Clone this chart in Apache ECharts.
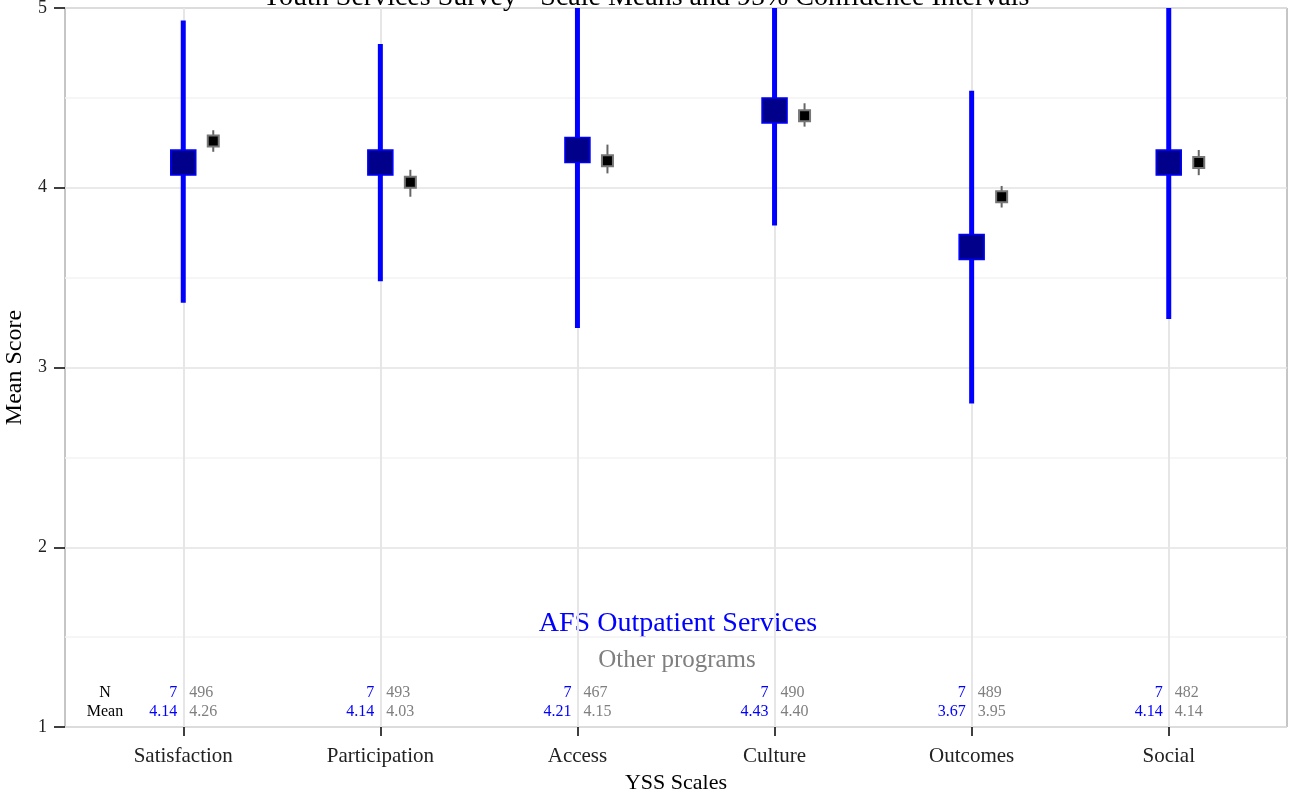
<!DOCTYPE html>
<html>
<head>
<meta charset="utf-8">
<script src="https://cdn.jsdelivr.net/npm/echarts@6/dist/echarts.min.js"></script>
<style>
html,body{margin:0;padding:0;background:#fff;}
#chart{width:1291px;height:802px;}
</style>
</head>
<body>
<div id="chart"></div>
<script>
const categories = ['Satisfaction','Participation','Access','Culture','Outcomes','Social'];
const afsMean = [4.14, 4.14, 4.21, 4.43, 3.67, 4.14];
const afsLow = [3.36, 3.48, 3.22, 3.79, 2.80, 3.27];
const afsHigh = [4.93, 4.80, 5.20, 5.07, 4.54, 5.01];
const afsN = [7, 7, 7, 7, 7, 7];
const otherMean = [4.26, 4.03, 4.15, 4.40, 3.95, 4.14];
const otherLow = [4.20, 3.95, 4.08, 4.34, 3.89, 4.07];
const otherHigh = [4.32, 4.10, 4.24, 4.47, 4.01, 4.21];
const otherN = [496, 493, 467, 490, 489, 482];
const yTicks = [1, 2, 3, 4, 5];

const FONT = '"Liberation Serif", "DejaVu Serif", serif';
const chart = echarts.init(document.getElementById('chart'));

const afsData = categories.map((c, i) => [i, afsLow[i], afsHigh[i], afsMean[i]]);
const otherData = categories.map((c, i) => [i, otherLow[i], otherHigh[i], otherMean[i]]);
const tableData = categories.map((c, i) => [i, afsN[i], afsMean[i], otherN[i], otherMean[i]]);

const option = {
  backgroundColor: '#fff',
  animation: false,
  title: {
    text: 'Youth Services Survey - Scale Means and 95% Confidence Intervals',
    left: 'center',
    top: -21,
    textStyle: {fontFamily: FONT, fontSize: 28, fontWeight: 'normal', color: '#000'}
  },
  grid: {left: 65, right: 4, top: 8, bottom: 75, outerBoundsMode: 'none', containLabel: false, show: true, borderColor: '#8c8c8c', borderWidth: 1, backgroundColor: 'transparent'},
  xAxis: {
    type: 'value', min: -0.6, max: 5.6,
    name: 'YSS Scales', nameLocation: 'middle', nameGap: 45,
    nameTextStyle: {fontFamily: FONT, fontSize: 22, color: '#000'},
    axisLine: {show: false, onZero: false},
    axisTick: {show: true, length: 9, customValues: [0,1,2,3,4,5], lineStyle: {color: '#000', width: 1.5}},
    axisLabel: {customValues: [0,1,2,3,4,5], formatter: v => categories[Math.round(v)] || '', fontFamily: FONT, fontSize: 21, color: '#222', margin: 19},
    splitLine: {show: true, lineStyle: {color: '#e6e6e6', width: 2}}
  },
  yAxis: {
    type: 'value', min: 1, max: 5, interval: 1,
    name: 'Mean Score', nameLocation: 'middle', nameGap: 38,
    nameTextStyle: {fontFamily: FONT, fontSize: 24, color: '#000'},
    axisLine: {show: false, onZero: false},
    axisTick: {show: true, length: 11, lineStyle: {color: '#000', width: 1.5}},
    axisLabel: {formatter: v => yTicks.includes(v) ? String(v) : '', fontFamily: FONT, fontSize: 18, color: '#222', margin: 18},
    splitLine: {show: true, lineStyle: {color: '#e3e3e3', width: 1.5}},
    minorTick: {show: false, splitNumber: 2},
    minorSplitLine: {show: true, lineStyle: {color: '#f4f4f4', width: 1.5}}
  },
  graphic: [
    {type: 'text', x: 105, y: 693, style: {text: 'N', font: '16px ' + FONT, fill: '#000', align: 'center', verticalAlign: 'middle'}},
    {type: 'text', x: 105, y: 712, style: {text: 'Mean', font: '16px ' + FONT, fill: '#000', align: 'center', verticalAlign: 'middle'}},
    {type: 'text', x: 678, y: 624, style: {text: 'AFS Outpatient Services', font: '28px ' + FONT, fill: '#0000ff', align: 'center', verticalAlign: 'middle'}},
    {type: 'text', x: 677, y: 660, style: {text: 'Other programs', font: '25px ' + FONT, fill: '#7f7f7f', align: 'center', verticalAlign: 'middle'}}
  ],
  series: [
    {
      type: 'custom', name: 'AFS', clip: true, z: 5,
      data: afsData,
      renderItem: function (params, api) {
        const i = api.value(0);
        const lo = api.coord([i, api.value(1)]);
        const hi = api.coord([i, api.value(2)]);
        const m = api.coord([i, api.value(3)]);
        const s = 25;
        return {type: 'group', children: [
          {type: 'line', shape: {x1: lo[0], y1: lo[1], x2: hi[0], y2: hi[1]}, style: {stroke: '#0000ff', lineWidth: 5}},
          {type: 'rect', shape: {x: m[0] - s / 2, y: m[1] - s / 2, width: s, height: s}, style: {fill: '#00008b', stroke: '#0000ff', lineWidth: 1.5}}
        ]};
      }
    },
    {
      type: 'custom', name: 'Other', clip: true, z: 5,
      data: otherData,
      renderItem: function (params, api) {
        const i = api.value(0);
        const off = 30;
        const lo = api.coord([i, api.value(1)]);
        const hi = api.coord([i, api.value(2)]);
        const m = api.coord([i, api.value(3)]);
        const s = 11;
        return {type: 'group', children: [
          {type: 'line', shape: {x1: lo[0] + off, y1: lo[1], x2: hi[0] + off, y2: hi[1]}, style: {stroke: '#666', lineWidth: 2}},
          {type: 'rect', shape: {x: m[0] + off - s / 2, y: m[1] - s / 2, width: s, height: s}, style: {fill: '#000', stroke: '#777', lineWidth: 2}}
        ]};
      }
    },
    {
      type: 'custom', name: 'Table', clip: false, z: 6,
      data: tableData,
      renderItem: function (params, api) {
        const i = api.value(0);
        const b = api.coord([i, 1]);
        const f = '16px ' + FONT;
        return {type: 'group', children: [
          {type: 'text', x: b[0] - 6, y: b[1] - 34, style: {text: String(api.value(1)), font: f, fill: '#0000ff', align: 'right', verticalAlign: 'middle'}},
          {type: 'text', x: b[0] - 6, y: b[1] - 15, style: {text: api.value(2).toFixed(2), font: f, fill: '#0000ff', align: 'right', verticalAlign: 'middle'}},
          {type: 'text', x: b[0] + 6, y: b[1] - 34, style: {text: String(api.value(3)), font: f, fill: '#7f7f7f', align: 'left', verticalAlign: 'middle'}},
          {type: 'text', x: b[0] + 6, y: b[1] - 15, style: {text: api.value(4).toFixed(2), font: f, fill: '#7f7f7f', align: 'left', verticalAlign: 'middle'}}
        ]};
      }
    }
  ]
};
chart.setOption(option);
</script>
</body>
</html>
